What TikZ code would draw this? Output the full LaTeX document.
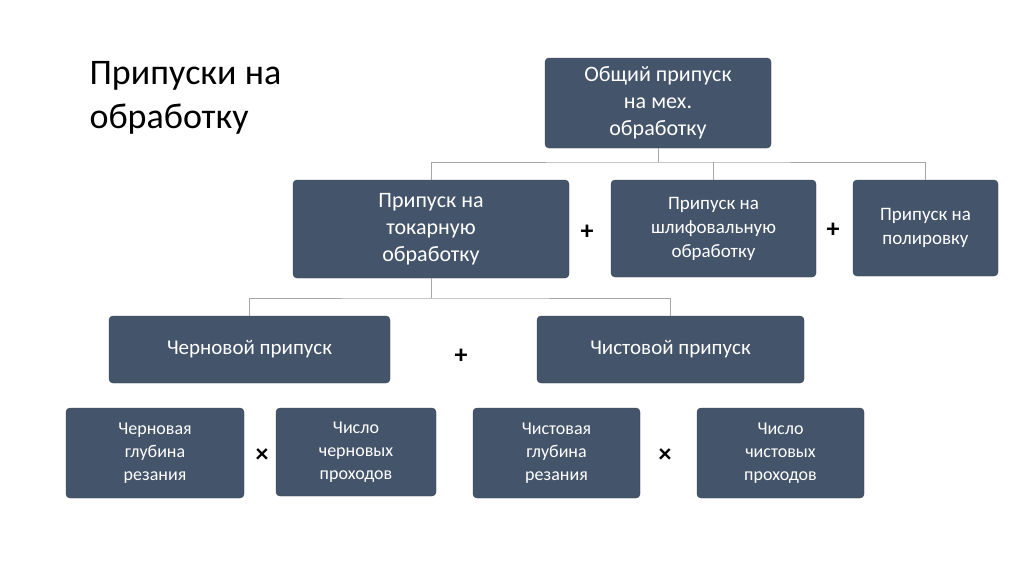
\documentclass[tikz,border=0pt]{standalone}
\usepackage{fontspec}
\setmainfont{Carlito}
\definecolor{boxc}{HTML}{44546A}
\definecolor{linec}{HTML}{A6A6A6}
\begin{document}
\begin{tikzpicture}[x=1pt,y=-1pt,
  bx/.style={draw=boxc!80!black,fill=boxc,rounded corners=4pt,text=white,align=center,inner sep=0pt},
  fa/.style={font=\fontsize{22}{27}\selectfont},
  fb/.style={font=\fontsize{19}{24}\selectfont},
  fc/.style={font=\fontsize{21}{25}\selectfont},
  fd/.style={font=\fontsize{18}{23}\selectfont},
  ln/.style={draw=linec,line width=1pt},
  op/.style={font=\fontsize{26}{26}\selectfont\bfseries}]
\useasboundingbox[fill=white] (0,0) rectangle (1024,574);
\node[anchor=north west,align=left,font=\fontsize{36}{44}\selectfont] (title) at (86,58) {Припуски на\\обработку};
\node[bx,fa,minimum width=226pt,minimum height=90pt] (top) at (658,103) {Общий припуск\\на мех.\\обработку};
\node[bx,fa,minimum width=276pt,minimum height=98pt] (turn) at (431,229) {Припуск на\\токарную\\обработку};
\node[bx,fb,minimum width=205pt,minimum height=97pt] (grind) at (713.5,228.5) {Припуск на\\шлифовальную\\обработку};
\node[bx,fb,minimum width=145pt,minimum height=96pt] (pol) at (925.5,228) {Припуск на\\полировку};
\node[bx,fc,minimum width=281pt,minimum height=67pt] (rough) at (249.5,349.5) {Черновой припуск};
\node[bx,fc,minimum width=267pt,minimum height=67pt] (fin) at (670.5,349.5) {Чистовой припуск};
\node[bx,fd,minimum width=178pt,minimum height=90pt] (b1) at (155,453) {Черновая\\глубина\\резания};
\node[bx,fd,minimum width=160pt,minimum height=88pt] (b2) at (356,452) {Число\\черновых\\проходов};
\node[bx,fd,minimum width=167pt,minimum height=90pt] (b3) at (556.5,453) {Чистовая\\глубина\\резания};
\node[bx,fd,minimum width=167pt,minimum height=90pt] (b4) at (780.5,453) {Число\\чистовых\\проходов};
\coordinate (j1) at (658,162);
\draw[ln] (top.south) -- (j1);
\draw[ln] (turn.north) |- (j1) -| (pol.north);
\draw[ln] (grind.north) -- (grind.north |- j1);
\coordinate (j2) at (431,298);
\draw[ln] (turn.south) -- (j2);
\draw[ln] (rough.north) |- (j2) -| (fin.north);
\node[op] (p1) at (587,232) {+};
\node[op] (p2) at (833,230) {+};
\node[op] (p3) at (461,356) {+};
\node[op] (x1) at (262,456) {×};
\node[op] (x2) at (665,456) {×};
\end{tikzpicture}
\end{document}
